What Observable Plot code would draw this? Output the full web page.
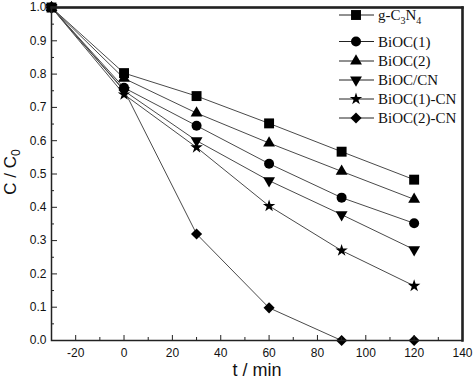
<!DOCTYPE html>
<html><head><meta charset="utf-8">
<script src="https://cdn.jsdelivr.net/npm/d3@7"></script>
<script src="https://cdn.jsdelivr.net/npm/@observablehq/plot@0.6"></script>
<style>body{margin:0;background:#fff}</style>
</head><body><div id="chart"></div>
<script>
const times = [-30, 0, 30, 60, 90, 120];
const seriesNames = ["g-C3N4", "BiOC(1)", "BiOC(2)", "BiOC/CN", "BiOC(1)-CN", "BiOC(2)-CN"];
const gC3N4   = [1.0, 0.803, 0.734, 0.652, 0.567, 0.483];
const biOC1   = [1.0, 0.759, 0.645, 0.531, 0.429, 0.352];
const biOC2   = [1.0, 0.787, 0.683, 0.593, 0.508, 0.424];
const biOCCN  = [1.0, 0.750, 0.600, 0.480, 0.378, 0.273];
const biOC1CN = [1.0, 0.739, 0.580, 0.404, 0.270, 0.164];
const biOC2CN = [1.0, 0.752, 0.320, 0.098, 0.000, 0.000];
const seriesValues = [gC3N4, biOC1, biOC2, biOCCN, biOC1CN, biOC2CN];
const xMajorTicks = [-20, 0, 20, 40, 60, 80, 100, 120, 140];
const xMinorTicks = [-10, 10, 30, 50, 70, 90, 110, 130];
const yMajorTicks = [0, 0.1, 0.2, 0.3, 0.4, 0.5, 0.6, 0.7, 0.8, 0.9, 1.0];
const yMinorTicks = [0.05, 0.15, 0.25, 0.35, 0.45, 0.55, 0.65, 0.75, 0.85, 0.95];

const symbolTriangleDown = {
  draw(context, size) {
    const y = -Math.sqrt(size / (Math.sqrt(3) * 3));
    context.moveTo(0, -y * 2);
    context.lineTo(-Math.sqrt(3) * y, y);
    context.lineTo(Math.sqrt(3) * y, y);
    context.closePath();
  }
};
const symbols = [d3.symbolSquare, d3.symbolCircle, d3.symbolTriangle, symbolTriangleDown, d3.symbolStar, d3.symbolDiamond2];
const radii = [5.6, 5, 4.4, 4.4, 3.9, 5];

const data = [];
seriesNames.forEach((name, i) => times.forEach((t, j) => data.push({series: name, t, c: seriesValues[i][j]})));

const lineMarks = seriesNames.map(name =>
  Plot.line(data.filter(d => d.series === name), {x: "t", y: "c", stroke: "#4a4a4a", strokeWidth: 1}));
const dotMarks = seriesNames.map((name, i) =>
  Plot.dot(data.filter(d => d.series === name), {x: "t", y: "c", symbol: symbols[i], r: radii[i], fill: "#000", stroke: "none"}));

const chart = Plot.plot({
  width: 474, height: 379,
  marginLeft: 51, marginRight: 12, marginTop: 7, marginBottom: 39,
  x: {domain: [-30, 140]},
  y: {domain: [0, 1]},
  style: {fontFamily: "'Liberation Sans', Arial, sans-serif", fontSize: "12px", color: "#111", background: "#fff"},
  marks: [
    ...lineMarks,
    ...dotMarks,
    Plot.axisX({ticks: xMajorTicks, tickSize: -5, text: null, label: null, stroke: "#222"}),
    Plot.axisX({ticks: xMinorTicks, tickSize: -3, text: null, label: null, stroke: "#222"}),
    Plot.axisX({ticks: xMajorTicks, tickSize: 0, tickPadding: 8, tickFormat: d => String(d), label: null}),
    Plot.axisY({ticks: yMajorTicks, tickSize: -6, text: null, label: null, stroke: "#222"}),
    Plot.axisY({ticks: yMinorTicks, tickSize: -3, text: null, label: null, stroke: "#222"}),
    Plot.axisY({ticks: yMajorTicks, tickSize: 0, tickPadding: 5, tickFormat: d3.format(".1f"), label: null}),
    Plot.frame({stroke: "#222", strokeWidth: 1.5}),
    Plot.frame({anchor: "top", stroke: "#222", strokeWidth: 2.5}),
    Plot.frame({anchor: "right", stroke: "#222", strokeWidth: 2.5})
  ]
});
document.getElementById("chart").appendChild(chart);

const svg = d3.select(chart);
// axis titles
svg.append("text")
  .attr("transform", "translate(16,172) rotate(-90)")
  .attr("text-anchor", "middle")
  .attr("font-family", "'Liberation Sans', Arial, sans-serif")
  .attr("font-size", 17).attr("fill", "#111")
  .call(t => { t.append("tspan").text("C / C"); t.append("tspan").attr("dy", 4).attr("font-size", 12).text("0"); });
svg.append("text")
  .attr("x", 257).attr("y", 376)
  .attr("text-anchor", "middle")
  .attr("font-family", "'Liberation Sans', Arial, sans-serif")
  .attr("font-size", 18).attr("fill", "#111")
  .text("t / min");

// legend
const legendY = [15, 41.5, 61, 80, 99, 118];
const lg = svg.append("g")
  .attr("font-family", "'Liberation Serif', 'Times New Roman', serif")
  .attr("font-size", 15).attr("fill", "#111").attr("text-anchor", "start");
seriesNames.forEach((name, i) => {
  const y = legendY[i];
  lg.append("line").attr("x1", 339).attr("x2", 374).attr("y1", y).attr("y2", y).attr("stroke", "#222").attr("stroke-width", 1);
  lg.append("path").attr("transform", `translate(356,${y})`)
    .attr("d", d3.symbol().type(symbols[i]).size(Math.PI * radii[i] * radii[i])()).attr("fill", "#000");
  const t = lg.append("text").attr("x", 378).attr("y", y).attr("dy", "0.35em").attr("text-anchor", "start");
  if (name === "g-C3N4") {
    t.append("tspan").text("g-C");
    t.append("tspan").attr("dy", 4).attr("font-size", 10).text("3");
    t.append("tspan").attr("dy", -4).text("N");
    t.append("tspan").attr("dy", 4).attr("font-size", 10).text("4");
  } else {
    t.text(name);
  }
});
</script>
</body></html>
